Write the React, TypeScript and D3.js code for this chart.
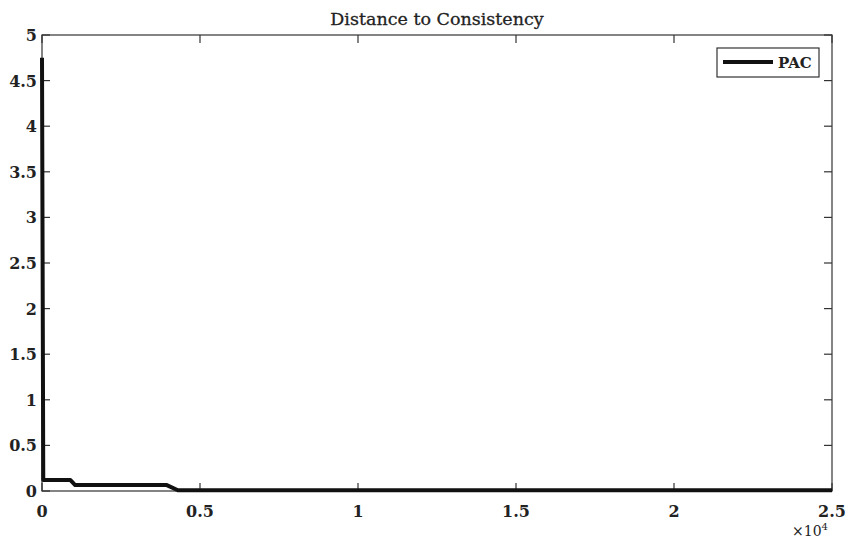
import React from "react";
import * as d3 from "d3";

// PAC distance-to-consistency trace (iteration, distance)
const iterations = [0, 40, 900, 1050, 3950, 4300, 25000];
const distances = [4.75, 0.12, 0.12, 0.065, 0.065, 0.008, 0.008];

const xTicks = [0, 5000, 10000, 15000, 20000, 25000];
const xTickLabels = ["0", "0.5", "1", "1.5", "2", "2.5"];
const yTicks = [0, 0.5, 1, 1.5, 2, 2.5, 3, 3.5, 4, 4.5, 5];
const yTickLabels = ["0", "0.5", "1", "1.5", "2", "2.5", "3", "3.5", "4", "4.5", "5"];

const seriesName = "PAC";
const title = "Distance to Consistency";

const W = 848;
const H = 540;
const m = { left: 42, right: 16, top: 35, bottom: 49 };

export default function App() {
  const x = d3.scaleLinear().domain([0, 25000]).range([m.left, W - m.right]);
  const y = d3.scaleLinear().domain([0, 5]).range([H - m.bottom, m.top]);
  const pts: [number, number][] = iterations.map((v, i) => [v, distances[i]]);
  const line = d3
    .line<[number, number]>()
    .x((d) => x(d[0]))
    .y((d) => y(d[1]));

  const x0 = m.left;
  const x1 = W - m.right;
  const y0 = H - m.bottom;
  const y1 = m.top;
  const tick = 8;
  const font = "'DejaVu Serif', 'Liberation Serif', serif";
  const ink = "#222";

  return (
    <svg
      width={W}
      height={H}
      style={{ position: "absolute", left: 0, top: 0, background: "#fff" }}
    >
      <text
        x={(x0 + x1) / 2}
        y={25}
        textAnchor="middle"
        fontFamily={font}
        fontSize={17.5}
        fill={ink}
        stroke={ink}
        strokeWidth={0.3}
      >
        {title}
      </text>

      {/* axes box */}
      <rect x={x0} y={y1} width={x1 - x0} height={y0 - y1} fill="none" stroke="#333" strokeWidth={1.2} />

      {xTicks.map((t, i) => (
        <g key={"x" + i}>
          <line x1={x(t)} x2={x(t)} y1={y0} y2={y0 - tick} stroke="#333" strokeWidth={1.2} />
          <line x1={x(t)} x2={x(t)} y1={y1} y2={y1 + tick} stroke="#333" strokeWidth={1.2} />
          <text
            x={x(t)}
            y={y0 + 26}
            textAnchor="middle"
            fontFamily={font}
            fontWeight="bold"
            fontSize={16}
            fill={ink}
          >
            {xTickLabels[i]}
          </text>
        </g>
      ))}

      {yTicks.map((t, i) => (
        <g key={"y" + i}>
          <line x1={x0} x2={x0 + tick} y1={y(t)} y2={y(t)} stroke="#333" strokeWidth={1.2} />
          <line x1={x1} x2={x1 - tick} y1={y(t)} y2={y(t)} stroke="#333" strokeWidth={1.2} />
          <text
            x={x0 - 5}
            y={y(t) + 6}
            textAnchor="end"
            fontFamily={font}
            fontWeight="bold"
            fontSize={16}
            fill={ink}
          >
            {yTickLabels[i]}
          </text>
        </g>
      ))}

      <text x={x1 - 40} y={H - 4} fontFamily={font} fontSize={14} fill={ink}>
        ×10
        <tspan dy={-6} fontSize={10}>4</tspan>
      </text>

      <path d={line(pts) || ""} fill="none" stroke="#111" strokeWidth={4} strokeLinejoin="round" />

      {/* legend */}
      <rect x={717} y={48} width={102} height={29} fill="#fff" stroke="#333" strokeWidth={1.2} />
      <line x1={723} x2={773} y1={62} y2={62} stroke="#111" strokeWidth={4} />
      <text x={778} y={68} fontFamily={font} fontWeight="bold" fontSize={15} fill={ink}>
        {seriesName}
      </text>
    </svg>
  );
}
